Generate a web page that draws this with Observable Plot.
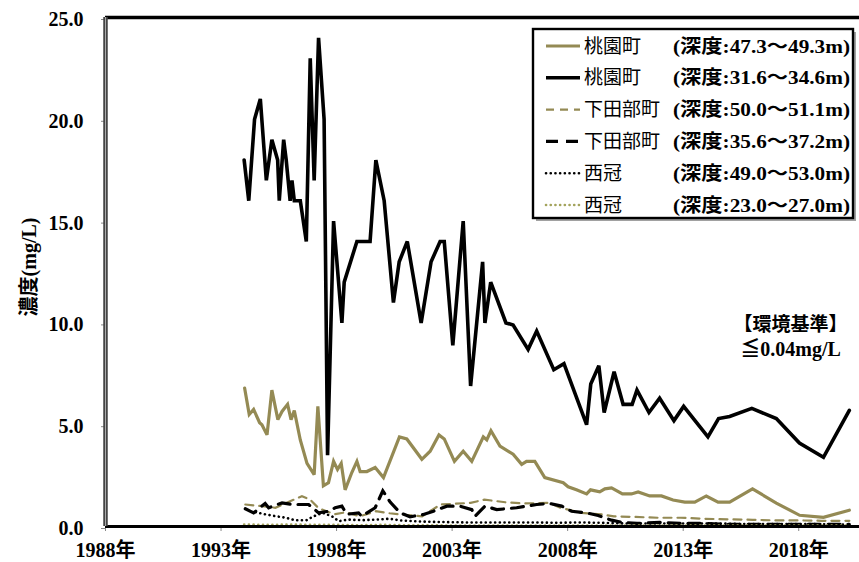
<!DOCTYPE html>
<html>
<head>
<meta charset="utf-8">
<script src="https://cdn.jsdelivr.net/npm/d3@7"></script>
<script src="https://cdn.jsdelivr.net/npm/@observablehq/plot@0.6"></script>
<style>
  html, body { margin: 0; padding: 0; background: #fff; }
  #chart svg { display: block; }
</style>
</head>
<body>
<div id="chart"></div>
<script>
const FONT = '"Liberation Serif", "Noto Sans CJK JP", serif';
const OLIVE = "#948A54";

// 桃園町 (深度:47.3～49.3m)
const tozono47Years = [1994.02, 1994.22, 1994.41, 1994.67, 1994.77, 1994.99, 1995.20, 1995.46, 1995.64, 1995.88,
  1996.03, 1996.17, 1996.43, 1996.72, 1997.03, 1997.19, 1997.43, 1997.65, 1997.87, 1998.04,
  1998.20, 1998.37, 1998.66, 1998.88, 1999.02, 1999.31, 1999.67, 2000.03, 2000.72, 2001.04,
  2001.69, 2002.05, 2002.43, 2002.66, 2003.10, 2003.48, 2003.85, 2004.35, 2004.50, 2004.68,
  2005.07, 2005.64, 2006.01, 2006.22, 2006.58, 2007.01, 2007.81, 2008.02, 2008.38, 2008.82,
  2008.99, 2009.39, 2009.61, 2009.90, 2010.37, 2010.76, 2011.05, 2011.55, 2012.06, 2012.56,
  2013.07, 2013.50, 2014.00, 2014.51, 2015.01, 2016.00, 2017.03, 2018.04, 2019.07, 2020.19];
const tozono47Values = [6.8, 5.5, 5.75, 5.1, 5.0, 4.5, 6.7, 5.25, 5.65, 6.0,
  5.25, 5.7, 4.25, 3.1, 2.55, 5.9, 2.0, 2.15, 3.2, 2.8,
  3.1, 1.8, 2.65, 3.2, 2.7, 2.7, 2.9, 2.4, 4.4, 4.3,
  3.3, 3.7, 4.5, 4.3, 3.2, 3.7, 3.2, 4.4, 4.25, 4.7,
  3.95, 3.55, 3.05, 3.2, 3.2, 2.4, 2.15, 1.95, 1.8, 1.6,
  1.8, 1.7, 1.85, 1.9, 1.6, 1.6, 1.7, 1.5, 1.5, 1.3,
  1.2, 1.2, 1.5, 1.2, 1.2, 1.85, 1.15, 0.55, 0.45, 0.8];

// 桃園町 (深度:31.6～34.6m)
const tozono31Years = [1994.00, 1994.20, 1994.45, 1994.70, 1994.96, 1995.20, 1995.45, 1995.52, 1995.71, 1995.82,
  1995.99, 1996.07, 1996.17, 1996.43, 1996.69, 1996.86, 1997.03, 1997.22, 1997.46, 1997.61,
  1997.87, 1998.23, 1998.33, 1998.88, 1999.45, 1999.70, 2000.06, 2000.46, 2000.71, 2001.06,
  2001.66, 2002.09, 2002.48, 2002.66, 2003.03, 2003.48, 2003.80, 2004.32, 2004.42, 2004.67,
  2005.33, 2005.64, 2006.29, 2006.66, 2007.40, 2007.84, 2008.82, 2009.00, 2009.35, 2009.58,
  2010.01, 2010.40, 2010.79, 2011.00, 2011.52, 2011.98, 2012.60, 2013.02, 2014.07, 2014.53,
  2015.01, 2015.97, 2017.03, 2018.03, 2019.07, 2020.19];
const tozono31Values = [18.0, 16.0, 20.0, 21.0, 17.0, 19.0, 18.0, 16.0, 19.0, 18.0,
  16.0, 17.0, 16.0, 16.0, 14.0, 23.0, 17.0, 24.0, 20.0, 3.5,
  15.0, 10.0, 12.0, 14.0, 14.0, 18.0, 16.0, 11.0, 13.0, 14.0,
  10.0, 13.0, 14.0, 14.0, 8.9, 15.0, 6.9, 13.0, 10.0, 12.0,
  10.0, 9.9, 8.7, 9.6, 7.7, 8.0, 5.0, 7.0, 7.9, 5.6,
  7.6, 6.0, 6.0, 6.7, 5.6, 6.3, 5.2, 5.9, 4.4, 5.3,
  5.4, 5.8, 5.3, 4.1, 3.4, 5.7];

// 下田部町 (深度:50.0～51.1m)
const shimotanabe50Years = [1994.05, 1994.77, 1995.35, 1996.50, 1996.86, 1997.22, 1997.90, 1998.40, 1999.00, 1999.70,
  2000.30, 2000.75, 2001.70, 2002.50, 2003.80, 2004.40, 2005.30, 2006.10, 2007.20, 2007.70,
  2008.60, 2009.50, 2010.00, 2010.90, 2011.90, 2012.90, 2013.90, 2015.00, 2016.00, 2017.00,
  2018.00, 2019.00, 2020.19];
const shimotanabe50Values = [1.08, 1.0, 0.92, 1.49, 1.32, 0.9, 0.6, 0.7, 0.5, 0.75,
  0.65, 0.59, 0.5, 1.08, 1.16, 1.32, 1.19, 1.13, 1.16, 0.92,
  0.67, 0.59, 0.5, 0.47, 0.43, 0.43, 0.38, 0.35, 0.33, 0.3,
  0.3, 0.28, 0.28];

// 下田部町 (深度:35.6～37.2m)
const shimotanabe35Years = [1994.05, 1994.41, 1994.91, 1995.06, 1995.64, 1996.07, 1996.79, 1997.22, 1997.65, 1997.94,
  1998.23, 1998.44, 1998.95, 1999.09, 1999.67, 2000.00, 2000.32, 2000.75, 2001.18, 2001.76,
  2002.19, 2002.77, 2003.34, 2003.85, 2003.99, 2004.42, 2004.93, 2005.79, 2006.66, 2007.23,
  2007.74, 2008.17, 2008.82, 2009.32, 2009.90, 2010.33, 2011.00, 2012.00, 2013.00, 2014.00,
  2015.00, 2016.00, 2017.00, 2018.00, 2019.00, 2020.19];
const shimotanabe35Values = [0.87, 0.67, 1.13, 0.92, 1.16, 1.08, 1.08, 0.67, 0.75, 0.92,
  1.0, 0.6, 0.67, 0.5, 0.92, 1.75, 1.2, 0.67, 0.48, 0.59,
  0.75, 1.0, 1.0, 0.83, 0.5, 1.0, 0.83, 0.92, 1.08, 1.13,
  1.0, 0.75, 0.67, 0.54, 0.31, 0.21, 0.15, 0.2, 0.15, 0.15,
  0.1, 0.1, 0.1, 0.1, 0.1, 0.1];

// 西冠 (深度:49.0～53.0m)
const nishikanmuri49Years = [1994.50, 1994.90, 1995.40, 1995.80, 1996.20, 1996.70, 1997.00, 1997.40, 1997.80, 1998.10,
  1998.50, 1999.10, 1999.70, 2000.30, 2000.75, 2001.50, 2002.50, 2003.50, 2004.50, 2005.50,
  2006.50, 2007.50, 2008.50, 2009.50, 2010.50, 2011.50, 2012.50, 2013.50, 2014.50, 2015.50,
  2016.50, 2017.50, 2018.50, 2019.50, 2020.19];
const nishikanmuri49Values = [0.7, 0.6, 0.5, 0.43, 0.31, 0.31, 0.5, 0.67, 0.5, 0.26,
  0.34, 0.31, 0.34, 0.38, 0.3, 0.25, 0.22, 0.2, 0.2, 0.2,
  0.2, 0.18, 0.2, 0.18, 0.15, 0.15, 0.15, 0.15, 0.15, 0.12,
  0.12, 0.12, 0.12, 0.1, 0.1];

// 西冠 (深度:23.0～27.0m)
const nishikanmuri23Years = [1994.00, 1995.00, 1996.00, 1997.00, 1998.00, 1999.00, 2000.00, 2001.00, 2002.00, 2003.00,
  2004.00, 2005.00, 2006.00, 2007.00, 2008.00, 2009.00, 2010.00, 2011.00, 2012.00, 2013.00,
  2014.00, 2015.00, 2016.00, 2017.00, 2018.00, 2019.00, 2020.19];
const nishikanmuri23Values = [0.1, 0.08, 0.1, 0.08, 0.08, 0.06, 0.08, 0.06, 0.06, 0.05,
  0.05, 0.05, 0.05, 0.05, 0.05, 0.05, 0.05, 0.05, 0.05, 0.05,
  0.05, 0.05, 0.05, 0.05, 0.05, 0.05, 0.05];

// Axis ticks
const yearTicks = [1988, 1993, 1998, 2003, 2008, 2013, 2018];
const valueTicks = [0, 5, 10, 15, 20, 25];

// Legend rows: site, depth range, line style
const legendSites = ["桃園町", "桃園町", "下田部町", "下田部町", "西冠", "西冠"];
const legendDepths = ["(深度:47.3～49.3m)", "(深度:31.6～34.6m)", "(深度:50.0～51.1m)",
  "(深度:35.6～37.2m)", "(深度:49.0～53.0m)", "(深度:23.0～27.0m)"];

const standardTitle = "【環境基準】";
const standardValue = "≦0.04mg/L";

const rows = (years, values) => years.map((year, i) => ({year, value: values[i]}));

const styles = [
  {stroke: OLIVE, strokeWidth: 3.2},
  {stroke: "#000", strokeWidth: 3.6},
  {stroke: OLIVE, strokeWidth: 2.2, strokeDasharray: "8,6"},
  {stroke: "#000", strokeWidth: 3.2, strokeDasharray: "12,8"},
  {stroke: "#000", strokeWidth: 2.6, strokeDasharray: "0.1,4.6", strokeLinecap: "round"},
  {stroke: "#A3A35C", strokeWidth: 2.6, strokeDasharray: "0.1,4.6", strokeLinecap: "round"}
];

const series = [
  rows(tozono47Years, tozono47Values),
  rows(tozono31Years, tozono31Values),
  rows(shimotanabe50Years, shimotanabe50Values),
  rows(shimotanabe35Years, shimotanabe35Values),
  rows(nishikanmuri49Years, nishikanmuri49Values),
  rows(nishikanmuri23Years, nishikanmuri23Values)
];

// Legend box drawn inside the plotting area, top right
function legend(index, scales, values, dims) {
  const g = d3.create("svg:g")
    .attr("font-family", FONT)
    .attr("font-size", 19)
    .attr("text-anchor", "start")
    .attr("fill", "#000");
  const w = 320, h = 189;
  const x0 = dims.width - 326, y0 = 29;
  g.append("rect").attr("x", x0 + 3).attr("y", y0 + 3).attr("width", w).attr("height", h)
    .attr("fill", "#8a8a8a").attr("opacity", 0.8);
  g.append("rect").attr("x", x0).attr("y", y0).attr("width", w).attr("height", h)
    .attr("fill", "#fff").attr("stroke", "#000").attr("stroke-width", 2.4);
  legendSites.forEach((site, i) => {
    const cy = y0 + 17 + i * 31.8;
    const s = styles[i];
    g.append("line")
      .attr("x1", x0 + 13).attr("x2", x0 + 47).attr("y1", cy).attr("y2", cy)
      .attr("stroke", s.stroke).attr("stroke-width", s.strokeWidth)
      .attr("stroke-dasharray", s.strokeDasharray || null)
      .attr("stroke-linecap", s.strokeLinecap || "butt");
    g.append("text").attr("x", x0 + 51).attr("y", cy).attr("dy", "0.35em")
      .attr("font-weight", "normal").text(site);
    g.append("text").attr("x", x0 + 140).attr("y", cy).attr("dy", "0.35em")
      .attr("font-weight", "bold")
      .attr("textLength", 177).attr("lengthAdjust", "spacingAndGlyphs")
      .text(legendDepths[i]);
  });
  return g.node();
}

const chart = Plot.plot({
  width: 859,
  height: 562,
  marginLeft: 105,
  marginRight: 0,
  marginTop: 17,
  marginBottom: 36,
  style: {fontFamily: FONT, fontSize: "20px", fontWeight: "bold", color: "#000", background: "#fff"},
  x: {domain: [1988, 2020.63]},
  y: {domain: [0, 25]},
  marks: [
    Plot.axisX({ticks: yearTicks, tickFormat: d => `${d}年`, tickSize: 5, tickPadding: 11,
      stroke: "#888", fill: "#000", fontSize: 20, fontWeight: "bold", label: null}),
    Plot.axisY({ticks: valueTicks, tickFormat: d3.format(".1f"), tickSize: 4, tickPadding: 18,
      stroke: "#888", fill: "#000", fontSize: 20, fontWeight: "bold", label: null, dy: 2}),
    Plot.text(["濃度(mg/L)"], {frameAnchor: "left", textAnchor: "middle", dx: -76, dy: -5, rotate: -90,
      fontSize: 20, fontWeight: "bold", fill: "#000"}),
    ...series.map((data, i) => Plot.line(data, {x: "year", y: "value", ...styles[i],
      strokeLinejoin: "miter", strokeMiterlimit: 3})),
    // frame: heavy top and bottom edges, double left edge
    Plot.ruleY([25], {stroke: "#000", strokeWidth: 3.6}),
    Plot.ruleY([0], {stroke: "#000", strokeWidth: 3.2}),
    Plot.ruleX([1988], {stroke: "#444", strokeWidth: 4.5}),
    Plot.ruleX([1988], {stroke: "#aaa", strokeWidth: 1}),
    Plot.text([standardTitle], {frameAnchor: "right", textAnchor: "middle", dx: -69, dy: 53,
      fontSize: 19, fontWeight: "bold", fill: "#000"}),
    Plot.text([standardValue], {frameAnchor: "right", textAnchor: "middle", dx: -69, dy: 78,
      fontSize: 20, fontWeight: "bold", fill: "#000"}),
    legend
  ]
});

document.getElementById("chart").append(chart);
</script>
</body>
</html>
